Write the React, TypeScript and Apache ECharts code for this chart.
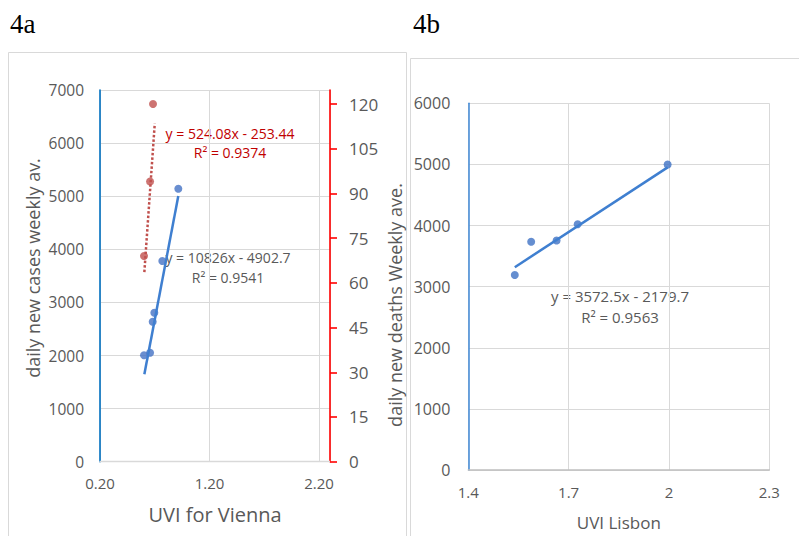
import React, { useEffect, useRef } from "react";
import * as echarts from "echarts";

// ---- Data ----
const viennaCaseUvi = [0.602, 0.657, 0.681, 0.696, 0.769, 0.915];
const viennaCases = [2004, 2053, 2637, 2806, 3780, 5141];
const viennaDeathUvi = [0.602, 0.657, 0.684];
const viennaDeaths = [69, 94, 120];
const lisbonUvi = [1.539, 1.588, 1.664, 1.727, 1.996];
const lisbonCases = [3191, 3734, 3755, 4021, 4999];

// regression fits shown on the chart: [slope, intercept], R², trend x-range
const viennaCasesFit = [10826, -4902.7];
const viennaCasesR2 = 0.9541;
const viennaCasesTrendRange = [0.605, 0.915];
const viennaDeathsFit = [524.08, -253.44];
const viennaDeathsR2 = 0.9374;
const viennaDeathsTrendRange = [0.605, 0.7];
const lisbonFit = [3572.5, -2179.7];
const lisbonR2 = 0.9563;
const lisbonTrendRange = [1.539, 1.996];

// tick labels
const viennaUviTicks = [0.2, 1.2, 2.2];
const viennaCaseTicks = [0, 1000, 2000, 3000, 4000, 5000, 6000, 7000];
const viennaDeathTicks = [0, 15, 30, 45, 60, 75, 90, 105, 120];
const lisbonUviTicks = [1.4, 1.7, 2, 2.3];
const lisbonCaseTicks = [0, 1000, 2000, 3000, 4000, 5000, 6000];

const FONT = '"Open Sans", sans-serif';
const GRAY = "#595959";
const GRID = "#d9d9d9";

const zip = (xs: number[], ys: number[]) => xs.map((x, i) => [x, ys[i]]);
const trend = (fit: number[], range: number[]) =>
  range.map((x) => [x, fit[0] * x + fit[1]]);
const eq = (fit: number[]) => `y = ${fit[0]}x - ${Math.abs(fit[1])}`;
const plain = (v: number) => String(v);

export default function App() {
  const ref = useRef<HTMLDivElement>(null);
  useEffect(() => {
    if (!ref.current) return;
    const chart = echarts.init(ref.current, null, { renderer: "svg" });
    const labelStyle = { color: GRAY, fontFamily: FONT };
    const txt = (x: number, y: number, text: string, size: number, fill: string, extra: any = {}) => ({
      type: "text",
      x,
      y,
      ...extra,
      style: {
        text,
        font: `${size}px ${FONT}`,
        fill,
        textAlign: "center",
        verticalAlign: "middle",
      },
    });
    chart.setOption({
      animation: false,
      grid: [
        { left: 100, top: 90, width: 230, height: 371.7 },
        { left: 468.3, top: 103.3, width: 301, height: 376 },
      ],
      xAxis: [
        {
          type: "value",
          gridIndex: 0,
          min: viennaUviTicks[0],
          max: 2.3,
          interval: 1,
          axisLine: { onZero: false, lineStyle: { color: GRID, width: 1.3 } },
          axisTick: { show: false },
          axisLabel: {
            ...labelStyle,
            fontSize: 15,
            margin: 14,
            showMaxLabel: false,
            formatter: (v: number) => v.toFixed(2),
          },
          splitLine: { show: true, lineStyle: { color: GRID, width: 1 } },
          name: "UVI for Vienna",
          nameLocation: "middle",
          nameGap: 43,
          nameTextStyle: { ...labelStyle, fontSize: 20 },
        },
        {
          type: "value",
          gridIndex: 1,
          min: lisbonUviTicks[0],
          max: lisbonUviTicks[lisbonUviTicks.length - 1],
          interval: 0.3,
          axisLine: { onZero: false, lineStyle: { color: "#bfbfbf", width: 1.5 } },
          axisTick: { show: false },
          axisLabel: {
            ...labelStyle,
            fontSize: 15,
            margin: 14,
            formatter: (v: number) => String(Math.round(v * 10) / 10),
          },
          splitLine: { show: true, lineStyle: { color: GRID, width: 1 } },
          name: "UVI Lisbon",
          nameLocation: "middle",
          nameGap: 44,
          nameTextStyle: { ...labelStyle, fontSize: 17 },
        },
      ],
      yAxis: [
        {
          type: "value",
          gridIndex: 0,
          min: viennaCaseTicks[0],
          max: viennaCaseTicks[viennaCaseTicks.length - 1],
          interval: 1000,
          axisLine: { show: true, onZero: false, lineStyle: { color: "#0070c0", width: 1.6 } },
          axisTick: { show: false },
          axisLabel: { ...labelStyle, fontSize: 15.5, margin: 16, formatter: plain },
          splitLine: { show: true, lineStyle: { color: GRID, width: 1 } },
        },
        {
          type: "value",
          gridIndex: 0,
          position: "right",
          min: 0,
          max: 124.7,
          interval: 15,
          axisLine: { show: true, onZero: false, lineStyle: { color: "#ff0000", width: 1.6 } },
          axisTick: {
            show: true,
            inside: false,
            length: 7,
            customValues: viennaDeathTicks,
            lineStyle: { color: "#ff0000", width: 1.6 },
          },
          axisLabel: {
            ...labelStyle,
            fontSize: 17,
            margin: 19,
            customValues: viennaDeathTicks,
            formatter: plain,
          },
          splitLine: { show: false },
        },
        {
          type: "value",
          gridIndex: 1,
          min: lisbonCaseTicks[0],
          max: lisbonCaseTicks[lisbonCaseTicks.length - 1],
          interval: 1000,
          axisLine: { show: true, onZero: false, lineStyle: { color: "#4a8fd8", width: 1.6 } },
          axisTick: { show: false },
          axisLabel: { ...labelStyle, fontSize: 16, margin: 18, formatter: plain },
          splitLine: { show: true, lineStyle: { color: GRID, width: 1 } },
        },
      ],
      series: [
        {
          type: "scatter",
          xAxisIndex: 0,
          yAxisIndex: 0,
          data: zip(viennaCaseUvi, viennaCases),
          symbolSize: 8,
          itemStyle: { color: "#4472c4" },
          z: 3,
        },
        {
          type: "scatter",
          xAxisIndex: 0,
          yAxisIndex: 1,
          data: zip(viennaDeathUvi, viennaDeaths),
          symbolSize: 8,
          itemStyle: { color: "#c0504d" },
          z: 3,
        },
        {
          type: "line",
          xAxisIndex: 0,
          yAxisIndex: 0,
          data: trend(viennaCasesFit, viennaCasesTrendRange),
          showSymbol: false,
          lineStyle: { color: "#3f7fd0", width: 2.5 },
          z: 4,
        },
        {
          type: "line",
          xAxisIndex: 0,
          yAxisIndex: 1,
          data: trend(viennaDeathsFit, viennaDeathsTrendRange),
          showSymbol: false,
          lineStyle: { color: "#c0504d", width: 2.5, type: [2.5, 2] },
          z: 4,
        },
        {
          type: "scatter",
          xAxisIndex: 1,
          yAxisIndex: 2,
          data: zip(lisbonUvi, lisbonCases),
          symbolSize: 8,
          itemStyle: { color: "#3f72c4" },
          z: 3,
        },
        {
          type: "line",
          xAxisIndex: 1,
          yAxisIndex: 2,
          data: trend(lisbonFit, lisbonTrendRange),
          showSymbol: false,
          lineStyle: { color: "#3f7fd0", width: 2.5 },
          z: 4,
        },
      ],
      graphic: [
        {
          type: "rect",
          shape: { x: 8.5, y: 52.5, width: 398, height: 520 },
          style: { fill: "none", stroke: GRID, lineWidth: 1 },
          silent: true,
          z: -10,
        },
        {
          type: "rect",
          shape: { x: 410.5, y: 58.5, width: 420, height: 520 },
          style: { fill: "none", stroke: GRID, lineWidth: 1 },
          silent: true,
          z: -10,
        },
        {
          type: "text",
          x: 10,
          y: 24,
          style: {
            text: "4a",
            font: '27px "Liberation Serif", serif',
            fill: "#000",
            textAlign: "left",
            verticalAlign: "middle",
          },
        },
        {
          type: "text",
          x: 413,
          y: 24,
          style: {
            text: "4b",
            font: '27px "Liberation Serif", serif',
            fill: "#000",
            textAlign: "left",
            verticalAlign: "middle",
          },
        },
        txt(33, 268, "daily new cases weekly av.", 18, GRAY, { rotation: Math.PI / 2 }),
        txt(395, 305, "daily new deaths Weekly ave.", 18, GRAY, { rotation: Math.PI / 2 }),
        txt(230, 133, eq(viennaDeathsFit), 14, "#c00000"),
        txt(230, 152, `R² = ${viennaDeathsR2}`, 14, "#c00000"),
        txt(228, 257, eq(viennaCasesFit), 14, GRAY),
        txt(228, 277, `R² = ${viennaCasesR2}`, 14, GRAY),
        txt(620, 296, eq(lisbonFit), 15, GRAY),
        txt(620, 317, `R² = ${lisbonR2}`, 15, GRAY),
      ],
    });
    return () => chart.dispose();
  }, []);
  return (
    <div
      ref={ref}
      style={{ position: "absolute", left: 0, top: 0, width: 799, height: 536, background: "#fff" }}
    />
  );
}
